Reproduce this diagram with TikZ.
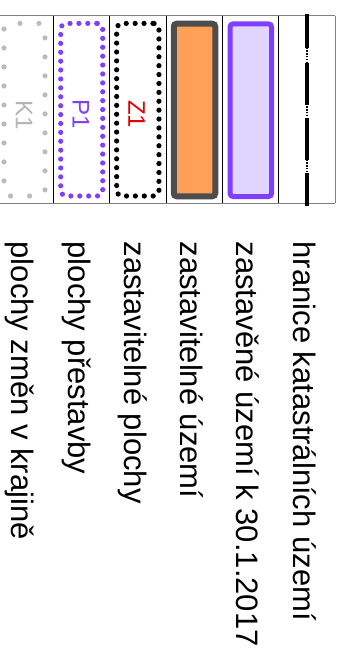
\documentclass[tikz,border=0pt]{standalone}
\usepackage{fontspec}
\setmainfont{Liberation Sans}
\usetikzlibrary{positioning,decorations.markings}

\definecolor{fialova}{RGB}{127,63,255}
\definecolor{levandule}{RGB}{224,213,255}
\definecolor{oranzova}{RGB}{255,160,87}
\definecolor{tmavasede}{RGB}{77,77,77}
\definecolor{svetlesede}{RGB}{187,187,187}
\definecolor{cervena}{RGB}{228,0,0}

\begin{document}
\begin{tikzpicture}[x=1pt, y=-1pt, symbox/.style={minimum width=41.5pt, minimum height=172.6pt, inner sep=0pt, rounded corners=3pt}, dotbox/.style 2 args={symbox, rounded corners=6pt, draw, draw opacity=0, postaction={decorate, decoration={markings, mark=between positions 0 and 1 step #2 with {\fill[#1] (0,0) circle (2.6pt);}}}}, tag/.style={rotate=-90, anchor=base, inner sep=0pt, font=\fontsize{24}{24}\selectfont}, popis/.style={rotate=-90, anchor=base west, inner sep=0pt, font=\fontsize{31}{31}\selectfont}]
\useasboundingbox (0,0) rectangle (344,658);
% tabulka
\draw[gray, line width=1pt] (0,15.7) -- (335,15.7) (0,203.3) -- (335,203.3);
\foreach \x in {53.3,109.3,166,222.3,278.7} \draw[line width=0.9pt] (\x,15.7) -- (\x,203.3);
\draw[gray, line width=0.8pt] (335,15.7) -- (335,203.3);
% hranice k.u.
\draw[line width=2.2pt, dash pattern=on 1.4pt off 1.4pt] (306.7,14) -- (306.7,206);
\draw[line width=3.8pt, dash pattern=on 34pt off 15pt on 42pt off 13pt on 42pt off 13pt on 40pt] (306.7,14) -- (306.7,206);
% plochy
\node[symbox, draw=fialova, line width=5pt, fill=levandule] (zastavene) at (250.8,110.2) {};
\node[symbox, draw=tmavasede, line width=6pt, fill=oranzova] (zastavitelne) at (194.5,110) {};
\node[dotbox={black}{8.9pt}, minimum width=42.3pt] (zbox) at (137.8,109.7) {};
\node[dotbox={fialova}{8.9pt}, minimum width=42pt] (pbox) at (81.7,109.7) {};
\node[dotbox={svetlesede}{19pt}, minimum width=41pt] (kbox) at (24.5,109.7) {};
\node[tag, text=cervena] (z1) at (128.3,114.2) {Z1};
\node[tag, text=fialova] (p1) at (72.7,114.2) {P1};
\node[tag, text=svetlesede!90!gray] (k1) at (16,115) {K1};
% popisy
\node[popis] (t1) at (293.3,241.5) {hranice katastrálních území};
\node[popis] (t2) at (236.7,241.5) {zastavěné území k 30.1.2017};
\node[popis] (t3) at (180,241.5) {zastavitelné území};
\node[popis] (t4) at (124,241.5) {zastavitelné plochy};
\node[popis] (t5) at (68,241.5) {plochy přestavby};
\node[popis] (t6) at (11.7,241.5) {plochy změn v krajině};
\end{tikzpicture}
\end{document}
